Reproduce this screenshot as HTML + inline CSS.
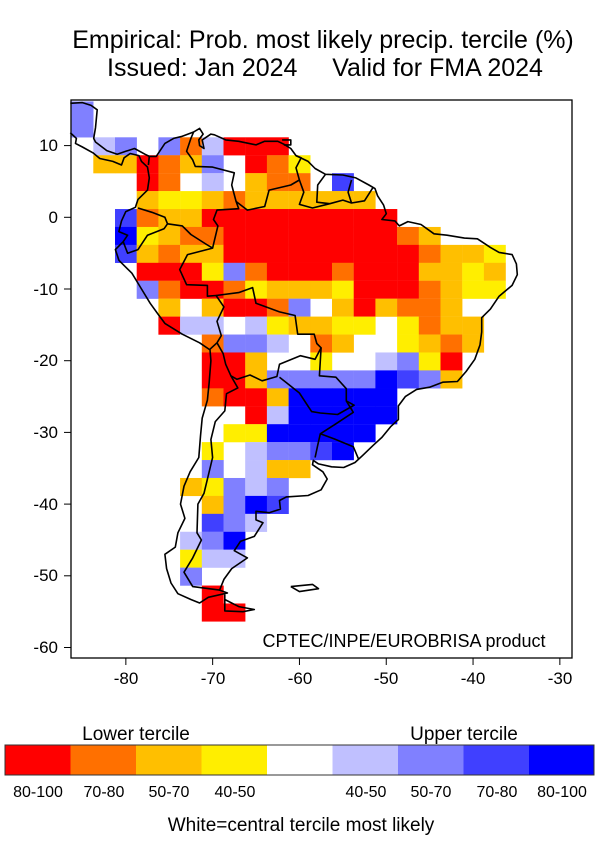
<!DOCTYPE html>
<html><head><meta charset="utf-8">
<style>
html,body{margin:0;padding:0;background:#fff;}
svg{display:block;font-family:"Liberation Sans",sans-serif;}
</style></head>
<body>
<svg id="s" width="600" height="850" viewBox="0 0 600 850" xmlns="http://www.w3.org/2000/svg">
<rect width="600" height="850" fill="#fff"/>
<text x="323" y="48" font-size="25" text-anchor="middle">Empirical: Prob. most likely precip. tercile (%)</text>
<text x="325" y="76" font-size="25" text-anchor="middle" xml:space="preserve">Issued: Jan 2024     Valid for FMA 2024</text>
<g id="cells"></g>
<g id="coast" fill="none" stroke="#000" stroke-width="1.6" stroke-linejoin="round"></g>
<rect x="71" y="100" width="501" height="558" fill="none" stroke="#000" stroke-width="1.3"/>
<g id="ticks" stroke="#000" stroke-width="1"></g>
<g font-size="17" text-anchor="end">
<text x="58" y="151">10</text><text x="58" y="223">0</text><text x="58" y="295">-10</text>
<text x="58" y="366">-20</text><text x="58" y="438">-30</text><text x="58" y="510">-40</text>
<text x="58" y="581">-50</text><text x="58" y="653">-60</text>
</g>
<g font-size="17" text-anchor="middle">
<text x="126" y="684">-80</text><text x="213" y="684">-70</text><text x="300" y="684">-60</text>
<text x="386" y="684">-50</text><text x="473" y="684">-40</text><text x="560" y="684">-30</text>
</g>
<text x="404" y="647" font-size="18" text-anchor="middle">CPTEC/INPE/EUROBRISA product</text>
<g>
<rect x="5" y="745" width="66" height="30" fill="#ff0000"/>
<rect x="70.5" y="745" width="66" height="30" fill="#ff7000"/>
<rect x="136" y="745" width="66" height="30" fill="#ffbf00"/>
<rect x="201.5" y="745" width="66" height="30" fill="#ffee00"/>
<rect x="267" y="745" width="66" height="30" fill="#ffffff"/>
<rect x="332.5" y="745" width="66" height="30" fill="#c0c0ff"/>
<rect x="398" y="745" width="66" height="30" fill="#8080ff"/>
<rect x="463.5" y="745" width="66" height="30" fill="#4040ff"/>
<rect x="529" y="745" width="65" height="30" fill="#0000ff"/>
<rect x="5" y="745" width="589" height="30" fill="none" stroke="#333" stroke-width="1"/>
</g>
<g font-size="19" text-anchor="middle">
<text x="136" y="740">Lower tercile</text>
<text x="464" y="740">Upper tercile</text>
<text x="301" y="831">White=central tercile most likely</text>
</g>
<g font-size="16" text-anchor="middle">
<text x="38" y="797">80-100</text><text x="104" y="797">70-80</text><text x="169" y="797">50-70</text><text x="235" y="797">40-50</text>
<text x="366" y="797">40-50</text><text x="431" y="797">50-70</text><text x="497" y="797">70-80</text><text x="562" y="797">80-100</text>
</g>
</svg>
<script>
var C={R:"#ff0000",O:"#ff7000",A:"#ffbf00",Y:"#ffee00",W:null,L:"#c0c0ff",M:"#8080ff",B:"#4040ff",D:"#0000ff"};
var rows={
"-2":{"-1":"M"},"-1":{"-1":"M"},
"0":"0L1M3M4O5L6R7R8R",
"1":"0A1A2R3O4A5M7R8O9Y",
"2":"2R3O5L7A8O9O11B",
"3":"2A3Y4Y5A6O7A8A9A10A11A12A",
"4":"1B2O3A4A5R6R7R8R9R10R11R12R13R",
"5":"1D2Y3A4O5O6R7R8R9R10R11R12R13R14O15A",
"6":"1B2A3O4A5A6R7R8R9R10R11R12R13R14R15O16A17A18Y",
"7":"2R3R4R5Y6M7O8R9R10R11O12R13R14R15A16A17Y18A",
"8":"2M3O4R5R6O7Y8A9A10A11Y12R13R14R15O16A17Y18Y",
"9":"3A5A6R7R8O9M11A12R13A14O15O16A",
"10":"3R4L5L7L8Y9A10A11Y12Y14Y15O16A17A",
"11":"5O6M7M8L10O11A14Y15A16O17A",
"12":"5R6R7A10Y13L14M15Y16R",
"13":"5R6R7A8M9M10M11M12M13D14B15M16A",
"14":"5O6R7R8A9D10D11D12D13D",
"15":"7R8L9D10D11D12D13D",
"16":"6Y7Y8D9D10D11D12D",
"17":"5Y7L8M9M10B11D",
"18":"5M7L8A9A",
"19":"4A5Y6M7L8M",
"20":"5A6M7D8B",
"21":"5B6M7L",
"22":"4L5M6D",
"23":"4Y5L6L",
"24":"4M",
"25":"5R",
"26":"5R6R"};
var NS="http://www.w3.org/2000/svg",g=document.getElementById("cells");
function cell(k,j,c){if(!C[c])return;var r=document.createElementNS(NS,"rect");
var x=93.3+21.7*k,y=137.3+17.93*j;r.setAttribute("x",x.toFixed(2));r.setAttribute("y",y.toFixed(2));
r.setAttribute("width","21.9");r.setAttribute("height","18.1");r.setAttribute("fill",C[c]);g.appendChild(r);}
for(var j in rows){var v=rows[j];if(typeof v==="object"){for(var k in v)cell(+k,+j,v[k]);}
else{var re=/(-?\d+)([A-Z])/g,m;while((m=re.exec(v)))cell(+m[1],+j,m[2]);}}
function P(lon,lat){return (125.85+(lon+80)*8.68).toFixed(1)+","+(217.3-lat*7.17).toFixed(1);}
var lines=[
[[-86.4,15.9],[-85,16],[-84,15.6],[-83.3,15],[-83.5,12.5],[-83.7,11],[-83.5,10.5],[-82.2,9.3],[-81,8.8],[-80,9.2],[-79,9.6],[-77.8,8.8],[-77.3,8.5],[-76.5,8.5],[-75.5,10.3],[-74.5,11],[-73.5,11.3],[-72.2,11.9],[-71.5,12.4],[-71.1,11.6],[-71.6,10.8],[-71.5,10],[-71,9.6],[-71.2,10.8],[-70.2,11.6],[-69.8,11.5],[-68.5,10.8],[-67,10.6],[-65,10.1],[-64,10.6],[-62.5,10.6],[-61.8,10.2],[-61,9.6],[-60.4,8.6],[-59,7.8],[-58.2,6.8],[-57,6],[-55,5.9],[-53.5,5.5],[-52,4.5],[-51.3,4],[-51,3],[-50.3,1.7],[-50,0.5],[-50.5,-0.3],[-49,-0.5],[-48.5,-1.2],[-47.5,-0.6],[-46,-1],[-44.5,-2.3],[-43,-2.5],[-41,-2.9],[-39.5,-3],[-38,-4.2],[-37,-4.9],[-35.5,-5.2],[-35,-6.5],[-34.9,-8],[-35.5,-9.5],[-37,-11],[-38,-12.8],[-39,-14],[-39,-16],[-39.2,-17.8],[-39.8,-19.8],[-40.8,-21.5],[-41.8,-22.9],[-43.5,-23],[-45,-23.7],[-46.5,-24],[-47.8,-25],[-48.6,-26.3],[-48.6,-28.2],[-49.5,-29.2],[-50.5,-30.7],[-51.5,-31.8],[-52.7,-33.2],[-53.6,-34.2],[-54.9,-34.9],[-56.3,-34.8],[-57.8,-34.4],[-58.4,-33.9],[-58.5,-34.5],[-57.3,-35.5],[-56.8,-36.5],[-57.5,-38],[-59,-38.8],[-61.5,-39],[-62.3,-39.5],[-62.2,-40.7],[-63.5,-41.2],[-65,-41],[-65,-42.2],[-64.2,-42.6],[-65.2,-44.5],[-66.8,-45.2],[-67.5,-46.5],[-66,-47.5],[-67.8,-49],[-68.7,-50.5],[-69.2,-52],[-68.3,-52.4],[-70.5,-53],[-71.5,-53.8],[-72.5,-53.3],[-74,-52.5],[-74.8,-51],[-75.3,-49],[-75.5,-47],[-74.3,-46],[-74,-44],[-73.2,-42],[-73.7,-40],[-73.3,-37.5],[-72.6,-35.5],[-71.6,-33.5],[-71.4,-30.5],[-71.2,-28],[-70.6,-25.5],[-70.4,-23],[-70.2,-20],[-70.3,-18.5],[-71.5,-17.5],[-73.5,-16.3],[-75.5,-14.8],[-76.3,-13.5],[-77.2,-12],[-78.2,-10],[-79.3,-7.8],[-80.8,-6],[-81.2,-4.5],[-80.3,-3.4],[-79.8,-2.5],[-80.8,-2],[-80.5,-0.5],[-80,0.8],[-78.9,1.4],[-78.6,2.5],[-77.5,3.8],[-77.3,5.5],[-77.5,7],[-78.2,7.8],[-78.5,8.6],[-79.5,8.9],[-80.2,8.3],[-80.5,7.3],[-81.5,7.8],[-83,8.2],[-83.8,9],[-85,9.8],[-85.8,10.3],[-85.7,11],[-86.4,11.8]],
[[-68.6,-52.6],[-68.6,-54.9],[-66.5,-55],[-65.2,-54.7],[-67,-54.3],[-68.6,-53.3]],
[[-61,-51.5],[-58.5,-51.2],[-57.8,-51.8],[-60,-52.2],[-61,-51.5]],
[[-62,10.8],[-61,10.8],[-61,10.1],[-61.8,10.1]],
[[-77.3,8.5],[-77.4,7.3]],
[[-72.2,11.9],[-72.5,11],[-73,9.2],[-72.3,8],[-72,7.1],[-70,7],[-67.5,6.2],[-67.8,4.5],[-67.3,2.2],[-67,1.2],[-69.5,1],[-69.9,-0.3],[-69.4,-1.2],[-70,-4.3]],
[[-78.6,1.3],[-77,0.7],[-75.5,0],[-75.2,-0.9],[-75.6,-1.6],[-77.5,-2.5],[-78.6,-4.5],[-79.8,-5],[-80.3,-3.4]],
[[-75.2,-0.9],[-73.5,-1.2],[-72.5,-2.4],[-70.7,-3.8],[-70,-4.3],[-72.9,-5.2],[-73.8,-7.3],[-73,-9.4],[-70.6,-9.5],[-70.6,-11],[-69.6,-10.9],[-68.7,-12.5],[-69.5,-14.5],[-69,-16.5],[-69.5,-17.5],[-70.3,-18.4]],
[[-67.3,2.2],[-66,1],[-64,1.5],[-63.5,3.8],[-61,4.5],[-60,5.2],[-60.4,6.9],[-59.8,8.3],[-60.4,8.6]],
[[-60,5.2],[-59.5,3.5],[-60,1.8],[-58.5,1.3],[-56.5,1.9],[-55,2.4],[-54,2],[-52.5,2.3],[-51.5,4.2]],
[[-57,6],[-57.9,4.5],[-58,2.1],[-56.5,1.9]],
[[-54,2],[-54.4,3.5],[-54,5.2]],
[[-69.6,-10.9],[-67,-10.5],[-65.4,-9.8],[-65,-12],[-62.3,-13.2],[-60.5,-13.7],[-60.2,-16.3],[-58.3,-16.3],[-58,-17.6],[-57.5,-18.2],[-58.2,-19.8],[-59.9,-19.3],[-62.3,-20.5],[-62.6,-22.2],[-64.3,-22.8],[-65.7,-22],[-67.2,-22.6],[-67.9,-22.1],[-68.5,-20.5],[-68.8,-19],[-69.5,-17.5]],
[[-57.5,-18.2],[-57.7,-22.1],[-55.8,-22.3],[-54.6,-23.9],[-54.6,-25.6],[-53.7,-26.2],[-55.6,-27.5],[-57.6,-27.3],[-58.6,-27.1],[-60,-24.5],[-62.3,-22.3]],
[[-54.6,-25.6],[-53.8,-27.2],[-55.8,-28.8],[-57.6,-30.2],[-57.9,-31.8],[-58.2,-33.5]],
[[-57.6,-30.2],[-56,-30.9],[-53.8,-32],[-53.2,-33.7]],
[[-67.9,-22.1],[-67.1,-23.8],[-68.4,-24.6],[-68.6,-27],[-69.7,-28.5],[-70.2,-31],[-70,-33.5],[-70.5,-36],[-71,-38.5],[-71.7,-40],[-71.8,-44],[-71.3,-45],[-72.3,-47.5],[-73.3,-49.5],[-72.3,-51.5],[-69.2,-52]]
];
var cg=document.getElementById("coast");
lines.forEach(function(l){var p=document.createElementNS(NS,"polyline");
p.setAttribute("points",l.map(function(q){return P(q[0],q[1]);}).join(" "));cg.appendChild(p);});
var tg=document.getElementById("ticks");
function ln(a,b,c,d){var e=document.createElementNS(NS,"line");e.setAttribute("x1",a);e.setAttribute("y1",b);e.setAttribute("x2",c);e.setAttribute("y2",d);tg.appendChild(e);}
for(var lat=10;lat>=-60;lat-=10){var y=217.3-lat*7.17;ln(64,y,71,y);}
for(var lon=-80;lon<=-30;lon+=10){var x=125.85+(lon+80)*8.68;ln(x,658,x,665);}
</script>
</body></html>
